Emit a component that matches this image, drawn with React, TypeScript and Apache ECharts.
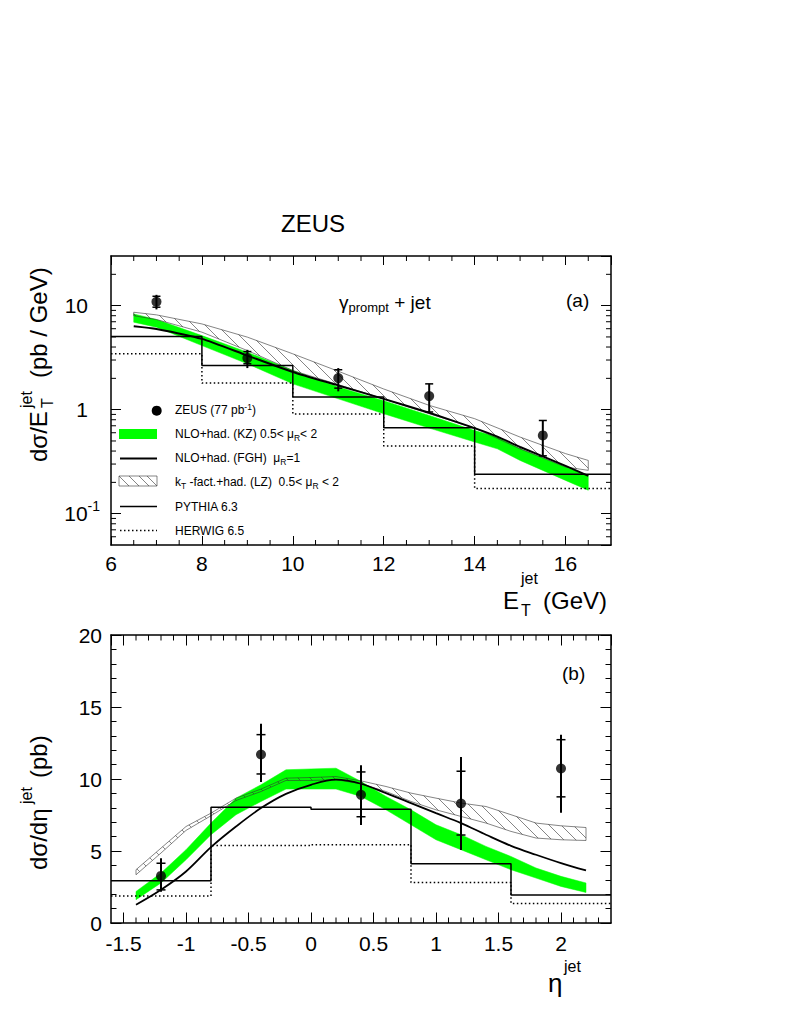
import React, { useEffect, useRef } from "react";
import * as echarts from "echarts";

const FONT = '"Liberation Sans", Arial, Helvetica, sans-serif';

// ---------- Panel (a): dσ/dE_T ----------
const etBinEdges = [6, 8, 10, 12, 14, 17];
const etCenters = [7, 9, 11, 13, 15.5];
const etZeus = [10.9, 3.13, 2.01, 1.35, 0.565];
const etStatLo = [9.66, 2.76, 1.61, 0.95, 0.36];
const etStatHi = [12.3, 3.62, 2.42, 1.77, 0.787];
const etTotLo = [9.2, 2.51, 1.5, 0.93, 0.359];
const etTotHi = [12.7, 3.76, 2.51, 1.77, 0.787];
const etPythia = [5.05, 2.66, 1.32, 0.67, 0.239];
const etHerwig = [3.44, 1.8, 0.91, 0.448, 0.175];

const etKzX = [6.5, 7, 8, 9, 10, 11, 12, 13, 14, 14.5, 15, 16, 16.5];
const etKzHi = [8.32, 7.35, 5.15, 3.57, 2.38, 1.65, 1.22, 0.88, 0.63, 0.545, 0.42, 0.281, 0.233];
const etKzLo = [6.93, 6.21, 4.13, 2.76, 1.77, 1.27, 0.914, 0.665, 0.489, 0.42, 0.325, 0.209, 0.168];
const etFgh = [6.34, 5.97, 4.79, 3.31, 2.3, 1.71, 1.27, 0.933, 0.665, 0.55, 0.438, 0.288, 0.231];

const etLzX = [6.5, 7, 8, 9, 10, 11, 12, 13, 14, 15, 16, 16.5];
const etLzHi = [8.64, 8.15, 6.67, 4.98, 3.44, 2.34, 1.58, 1.1, 0.819, 0.545, 0.378, 0.325];
const etLzLo = [8.01, 7.35, 5.56, 3.7, 2.38, 1.74, 1.27, 0.914, 0.665, 0.42, 0.281, 0.261];

// ---------- Panel (b): dσ/dη ----------
const etaBinEdges = [-1.6, -0.8, 0, 0.8, 1.6, 2.4];
const etaCenters = [-1.2, -0.4, 0.4, 1.2, 2.0];
const etaZeus = [3.27, 11.7, 8.9, 8.3, 10.73];
const etaStatLo = [2.3, 10.35, 7.38, 6.11, 8.76];
const etaStatHi = [4.15, 13.08, 10.49, 10.54, 12.73];
const etaTotLo = [2.17, 9.8, 6.8, 5.07, 7.66];
const etaTotHi = [4.5, 13.84, 10.96, 11.53, 13.08];
const etaPythia = [2.94, 8.04, 7.9, 4.11, 1.94];
const etaHerwig = [1.87, 5.38, 5.44, 2.81, 1.36];

const etaCurveX = [-1.4, -1.2, -1.0, -0.8, -0.6, -0.4, -0.2, 0, 0.2, 0.4, 0.6, 0.8, 1.0, 1.2, 1.4, 1.6, 1.8, 2.0, 2.2];
const etaKzHi = [2.19, 3.47, 5.09, 6.94, 8.67, 9.6, 10.64, 10.7, 10.75, 9.83, 8.79, 7.86, 6.82, 6.13, 5.32, 4.62, 3.82, 3.24, 2.78];
const etaKzLo = [1.62, 2.78, 4.39, 6.13, 7.52, 8.44, 9.3, 9.3, 9.3, 8.79, 7.86, 6.82, 5.78, 5.09, 4.39, 3.7, 3.12, 2.54, 2.12];
const etaFgh = [1.27, 2.31, 3.58, 5.27, 6.7, 7.98, 8.97, 9.6, 9.95, 9.67, 9.02, 8.33, 7.63, 6.94, 6.13, 5.36, 4.74, 4.16, 3.65];
const etaLzHi = [3.7, 5.2, 6.7, 7.63, 8.67, 9.3, 10.06, 10.1, 10.17, 9.87, 9.48, 9.02, 8.67, 8.33, 8.09, 7.52, 6.94, 6.75, 6.63];
const etaLzLo = [3.35, 4.86, 6.43, 7.45, 8.51, 9.13, 9.9, 9.9, 9.95, 9.67, 9.13, 8.44, 7.86, 7.4, 6.94, 6.36, 5.9, 5.78, 5.73];

// ---------- axis extents & minor ticks ----------
const ET_MIN = 6, ET_MAX = 17, SIG_MIN = 0.05, SIG_MAX = 30;
const ETA_MIN = -1.6, ETA_MAX = 2.4, DETA_MIN = 0, DETA_MAX = 20;
const etMinorTicks = [6.5, 7, 7.5, 8.5, 9, 9.5, 10.5, 11, 11.5, 12.5, 13, 13.5, 14.5, 15, 15.5, 16.5];
const logMinorTicks = [0.06, 0.07, 0.08, 0.09, 0.2, 0.3, 0.4, 0.5, 0.6, 0.7, 0.8, 0.9, 2, 3, 4, 5, 6, 7, 8, 9, 20];
const etaMinorTicks = [-1.4, -1.3, -1.2, -1.1, -0.9, -0.8, -0.7, -0.6, -0.4, -0.3, -0.2, -0.1, 0.1, 0.2, 0.3, 0.4, 0.6, 0.7, 0.8, 0.9, 1.1, 1.2, 1.3, 1.4, 1.6, 1.7, 1.8, 1.9, 2.1, 2.2, 2.3];

const histData = (edges: number[], vals: number[]) =>
  edges.map((e, i) => [e, vals[Math.min(i, vals.length - 1)]]);
const pairs = (xs: number[], ys: number[]) => xs.map((x, i) => [x, ys[i]]);

function bandItem(xs: number[], hi: number[], lo: number[], color: string) {
  return (_p: any, api: any) => {
    const top = xs.map((x, i) => api.coord([x, hi[i]]));
    const bot = xs.map((x, i) => api.coord([x, lo[i]])).reverse();
    return {
      type: "polygon",
      shape: { points: [...top, ...bot] },
      style: { fill: color, stroke: color, lineWidth: 0.5 },
    };
  };
}

function hatchItem(xs: number[], hi: number[], lo: number[], spacing: number) {
  return (_p: any, api: any) => {
    const top = xs.map((x, i) => api.coord([x, hi[i]]));
    const bot = xs.map((x, i) => api.coord([x, lo[i]])).reverse();
    const poly = [...top, ...bot];
    const children: any[] = [
      {
        type: "polygon",
        shape: { points: poly },
        style: { fill: "none", stroke: "#333", lineWidth: 0.6 },
      },
    ];
    const cs = poly.map((p: number[]) => p[0] - p[1]);
    const cmin = Math.min(...cs), cmax = Math.max(...cs);
    for (let c = Math.ceil(cmin / spacing) * spacing; c < cmax; c += spacing) {
      const pts: number[][] = [];
      for (let k = 0; k < poly.length; k++) {
        const a = poly[k], b = poly[(k + 1) % poly.length];
        const fa = a[0] - a[1] - c, fb = b[0] - b[1] - c;
        if (fa < 0 !== fb < 0) {
          const t = fa / (fa - fb);
          pts.push([a[0] + t * (b[0] - a[0]), a[1] + t * (b[1] - a[1])]);
        }
      }
      pts.sort((p, q) => p[0] - q[0]);
      for (let j = 0; j + 1 < pts.length; j += 2) {
        children.push({
          type: "line",
          shape: { x1: pts[j][0], y1: pts[j][1], x2: pts[j + 1][0], y2: pts[j + 1][1] },
          style: { stroke: "#333", lineWidth: 0.6 },
        });
      }
    }
    return { type: "group", children };
  };
}

function errItem(tick: number) {
  return (_p: any, api: any) => {
    const x = api.value(0);
    const c = api.coord([x, api.value(1)]);
    const sl = api.coord([x, api.value(2)]);
    const sh = api.coord([x, api.value(3)]);
    const tl = api.coord([x, api.value(4)]);
    const th = api.coord([x, api.value(5)]);
    const st = { stroke: "#000", lineWidth: 1.5 };
    return {
      type: "group",
      children: [
        { type: "line", shape: { x1: c[0], y1: th[1], x2: c[0], y2: tl[1] }, style: { stroke: "#000", lineWidth: 2 } },
        { type: "line", shape: { x1: c[0] - tick, y1: sh[1], x2: c[0] + tick, y2: sh[1] }, style: st },
        { type: "line", shape: { x1: c[0] - tick, y1: sl[1], x2: c[0] + tick, y2: sl[1] }, style: st },
      ],
    };
  };
}

function minorTickItem(xTicks: number[], yTicks: number[], x0: number, x1: number, y0: number, y1: number, len: number) {
  return (_p: any, api: any) => {
    const children: any[] = [];
    const st = { stroke: "#000", lineWidth: 1 };
    xTicks.forEach((v) => {
      const b = api.coord([v, y0]);
      const t = api.coord([v, y1]);
      children.push({ type: "line", shape: { x1: b[0], y1: b[1], x2: b[0], y2: b[1] - len }, style: st });
      children.push({ type: "line", shape: { x1: t[0], y1: t[1], x2: t[0], y2: t[1] + len }, style: st });
    });
    yTicks.forEach((v) => {
      const l = api.coord([x0, v]);
      const r = api.coord([x1, v]);
      children.push({ type: "line", shape: { x1: l[0], y1: l[1], x2: l[0] + len, y2: l[1] }, style: st });
      children.push({ type: "line", shape: { x1: r[0], y1: r[1], x2: r[0] - len, y2: r[1] }, style: st });
    });
    return { type: "group", children };
  };
}

const axisLine = { show: true, onZero: false, lineStyle: { color: "#000", width: 1.5 } };
const tickStyle = { color: "#000", width: 1 };
const labelBase = { color: "#000", fontFamily: FONT, fontSize: 21 };

function buildOption(): any {
  const g0 = { xAxisIndex: 0, yAxisIndex: 0 };
  const g1 = { xAxisIndex: 2, yAxisIndex: 2 };
  const txt = (x: number, y: number, text: string, fontSize: number, extra: any = {}) => ({
    type: "text",
    x,
    y,
    style: { text, fontSize, fontFamily: FONT, fill: "#000", verticalAlign: "middle", ...extra },
  });
  const legRich = {
    n: { fontSize: 12, fontFamily: FONT, lineHeight: 16 },
    sub: { fontSize: 8.5, fontFamily: FONT, verticalAlign: "bottom", lineHeight: 9 },
    sup: { fontSize: 8.5, fontFamily: FONT, verticalAlign: "top", lineHeight: 9 },
  };
  const legText = (y: number, text: string) => ({
    type: "text",
    x: 175,
    y,
    style: { text, rich: legRich, fill: "#000", verticalAlign: "middle", fontFamily: FONT },
  });
  const hatchLegend: any[] = [
    { type: "rect", shape: { x: 119, y: 476, width: 38, height: 10 }, style: { fill: "none", stroke: "#333", lineWidth: 0.6 } },
  ];
  [0, 10, 20, 28].forEach((k) => {
    const xa = 119 + k, xb = Math.min(119 + k + 10, 157);
    hatchLegend.push({
      type: "line",
      shape: { x1: xa, y1: 476, x2: xb, y2: 476 + (xb - xa) },
      style: { stroke: "#333", lineWidth: 0.6 },
    });
  });

  return {
    animation: false,
    backgroundColor: "#fff",
    grid: [
      { left: 111, top: 256, width: 500, height: 289 },
      { left: 111, top: 635, width: 500, height: 288 },
    ],
    xAxis: [
      {
        gridIndex: 0, type: "value", position: "bottom", min: ET_MIN, max: ET_MAX, interval: 2,
        axisLine, axisTick: { show: true, inside: true, length: 9, lineStyle: tickStyle },
        minorTick: { show: false }, splitLine: { show: false },
        axisLabel: { ...labelBase, margin: 8, showMaxLabel: false },
      },
      {
        gridIndex: 0, type: "value", position: "top", min: ET_MIN, max: ET_MAX, interval: 2,
        axisLine, axisTick: { show: true, inside: true, length: 9, lineStyle: tickStyle },
        minorTick: { show: false }, splitLine: { show: false }, axisLabel: { show: false },
      },
      {
        gridIndex: 1, type: "value", position: "bottom", min: ETA_MIN, max: ETA_MAX, splitNumber: 8,
        axisLine, axisTick: { show: true, inside: true, length: 10.5, lineStyle: tickStyle },
        minorTick: { show: false }, splitLine: { show: false },
        axisLabel: { ...labelBase, margin: 10, showMinLabel: false, showMaxLabel: false },
      },
      {
        gridIndex: 1, type: "value", position: "top", min: ETA_MIN, max: ETA_MAX, splitNumber: 8,
        axisLine, axisTick: { show: true, inside: true, length: 10.5, lineStyle: tickStyle },
        minorTick: { show: false }, splitLine: { show: false }, axisLabel: { show: false },
      },
    ],
    yAxis: [
      {
        gridIndex: 0, type: "log", logBase: 10, min: SIG_MIN, max: SIG_MAX, position: "left",
        axisLine, axisTick: { show: true, inside: true, length: 10, lineStyle: tickStyle },
        minorTick: { show: false }, splitLine: { show: false },
        axisLabel: {
          ...labelBase, margin: 11, showMinLabel: false, showMaxLabel: false,
          formatter: (v: number) => {
            if (Math.abs(v - 10) < 1e-6) return "{b|10}{p| }";
            if (Math.abs(v - 1) < 1e-6) return "{b|1}{p| }";
            if (Math.abs(v - 0.1) < 1e-6) return "{b|10}{s|-1}";
            return "";
          },
          rich: {
            b: { fontSize: 21, fontFamily: FONT, color: "#000", lineHeight: 30 },
            p: { fontSize: 14, fontFamily: FONT, color: "#000", lineHeight: 14, width: 12 },
            s: { fontSize: 14, fontFamily: FONT, color: "#000", verticalAlign: "top", lineHeight: 14 },
          },
        },
      },
      {
        gridIndex: 0, type: "log", logBase: 10, min: SIG_MIN, max: SIG_MAX, position: "right",
        axisLine, axisTick: { show: true, inside: true, length: 10, lineStyle: tickStyle },
        minorTick: { show: false }, splitLine: { show: false }, axisLabel: { show: false },
      },
      {
        gridIndex: 1, type: "value", min: DETA_MIN, max: DETA_MAX, interval: 5, position: "left",
        axisLine, axisTick: { show: true, inside: true, length: 10.5, lineStyle: tickStyle },
        minorTick: { show: true, splitNumber: 5, length: 5.5, lineStyle: tickStyle },
        splitLine: { show: false },
        axisLabel: { ...labelBase, margin: 9 },
      },
      {
        gridIndex: 1, type: "value", min: DETA_MIN, max: DETA_MAX, interval: 5, position: "right",
        axisLine, axisTick: { show: true, inside: true, length: 10.5, lineStyle: tickStyle },
        minorTick: { show: true, splitNumber: 5, length: 5.5, lineStyle: tickStyle },
        splitLine: { show: false }, axisLabel: { show: false },
      },
    ],
    series: [
      // ---- panel (a)
      { type: "custom", ...g0, renderItem: bandItem(etKzX, etKzHi, etKzLo, "#00ff00"), data: [[etKzX[0], etKzHi[0]]], silent: true },
      { type: "custom", ...g0, renderItem: hatchItem(etLzX, etLzHi, etLzLo, 12), data: [[etLzX[0], etLzHi[0]]], silent: true },
      { type: "line", ...g0, step: "end", data: histData(etBinEdges, etPythia), showSymbol: false, lineStyle: { color: "#000", width: 1.5 } },
      { type: "line", ...g0, step: "end", data: histData(etBinEdges, etHerwig), showSymbol: false, lineStyle: { color: "#000", width: 1.5, type: [1.5, 2.5] } },
      { type: "line", ...g0, data: pairs(etKzX, etFgh), showSymbol: false, smooth: 0.2, lineStyle: { color: "#000", width: 2 } },
      {
        type: "custom", ...g0, renderItem: errItem(4),
        data: etCenters.map((x, i) => [x, etZeus[i], etStatLo[i], etStatHi[i], etTotLo[i], etTotHi[i]]),
      },
      { type: "scatter", ...g0, data: pairs(etCenters, etZeus), symbol: "circle", symbolSize: 10, itemStyle: { color: "#000" } },
      {
        type: "custom", ...g0, silent: true, data: [[ET_MIN, 1]],
        renderItem: minorTickItem(etMinorTicks, logMinorTicks, ET_MIN, ET_MAX, SIG_MIN, SIG_MAX, 5),
      },
      // ---- panel (b)
      { type: "custom", ...g1, renderItem: bandItem(etaCurveX, etaKzHi, etaKzLo, "#00ff00"), data: [[etaCurveX[0], etaKzHi[0]]], silent: true },
      { type: "custom", ...g1, renderItem: hatchItem(etaCurveX, etaLzHi, etaLzLo, 12), data: [[etaCurveX[0], etaLzHi[0]]], silent: true },
      { type: "line", ...g1, step: "end", data: histData(etaBinEdges, etaPythia), showSymbol: false, lineStyle: { color: "#000", width: 1.5 } },
      { type: "line", ...g1, step: "end", data: histData(etaBinEdges, etaHerwig), showSymbol: false, lineStyle: { color: "#000", width: 1.5, type: [1.5, 2.5] } },
      { type: "line", ...g1, data: pairs(etaCurveX, etaFgh), showSymbol: false, smooth: 0.35, lineStyle: { color: "#000", width: 1.8 } },
      {
        type: "custom", ...g1, renderItem: errItem(4.5),
        data: etaCenters.map((x, i) => [x, etaZeus[i], etaStatLo[i], etaStatHi[i], etaTotLo[i], etaTotHi[i]]),
      },
      { type: "scatter", ...g1, data: pairs(etaCenters, etaZeus), symbol: "circle", symbolSize: 10, itemStyle: { color: "#000" } },
      {
        type: "custom", ...g1, silent: true, data: [[ETA_MIN, 1]],
        renderItem: minorTickItem(etaMinorTicks, [], ETA_MIN, ETA_MAX, DETA_MIN, DETA_MAX, 5.5),
      },
    ],
    graphic: [
      txt(281, 223, "ZEUS", 24),
      {
        type: "text", x: 339, y: 302,
        style: {
          text: "{m|γ}{s|prompt}{m| + jet}", fill: "#000", verticalAlign: "middle", fontFamily: FONT,
          rich: {
            m: { fontSize: 19, fontFamily: FONT, lineHeight: 24 },
            s: { fontSize: 13, fontFamily: FONT, verticalAlign: "bottom", lineHeight: 13 },
          },
        },
      },
      txt(566, 300, "(a)", 19),
      txt(562, 673, "(b)", 19),
      // legend (a)
      { type: "circle", shape: { cx: 156.7, cy: 410.7, r: 5 }, style: { fill: "#000" } },
      { type: "rect", shape: { x: 119, y: 429, width: 38, height: 10 }, style: { fill: "#00ff00" } },
      { type: "line", shape: { x1: 120, y1: 458.5, x2: 157, y2: 458.5 }, style: { stroke: "#000", lineWidth: 2 } },
      ...hatchLegend,
      { type: "line", shape: { x1: 120, y1: 506.5, x2: 157, y2: 506.5 }, style: { stroke: "#000", lineWidth: 1.5 } },
      { type: "line", shape: { x1: 120, y1: 530.5, x2: 157, y2: 530.5 }, style: { stroke: "#000", lineWidth: 1.5, lineDash: [1.5, 2.5] } },
      legText(410, "{n|ZEUS (77 pb}{sup|-1}{n|)}"),
      legText(434, "{n|NLO+had. (KZ) 0.5< μ}{sub|R}{n|< 2}"),
      legText(458, "{n|NLO+had. (FGH)  μ}{sub|R}{n|=1}"),
      legText(482, "{n|k}{sub|T}{n| -fact.+had. (LZ)  0.5< μ}{sub|R}{n| < 2}"),
      legText(507, "{n|PYTHIA 6.3}"),
      legText(531, "{n|HERWIG 6.5}"),
      // x-axis titles
      txt(503, 600, "E", 24),
      txt(521, 610, "T", 16),
      txt(521, 578, "jet", 16),
      txt(543, 600, "(GeV)", 24),
      txt(548, 983, "η", 26),
      txt(564, 966, "jet", 16),
      // y-axis titles (rotated)
      {
        type: "group", x: 47, y: 462, rotation: Math.PI / 2,
        children: [
          txt(0, -8.5, "dσ/E", 24),
          txt(54, 0, "T", 16),
          txt(54, -21, "jet", 16),
          txt(84, -8.5, "(pb / GeV)", 24),
        ],
      },
      {
        type: "group", x: 47, y: 870, rotation: Math.PI / 2,
        children: [
          txt(0, -8.5, "dσ/dη", 24),
          txt(66, -21, "jet", 16),
          txt(92, -8.5, "(pb)", 24),
        ],
      },
    ],
  };
}

export default function App() {
  const ref = useRef<HTMLDivElement>(null);
  useEffect(() => {
    if (!ref.current) return;
    const chart = echarts.init(ref.current, null, { renderer: "svg" });
    chart.setOption(buildOption());
    return () => chart.dispose();
  }, []);
  return (
    <div
      ref={ref}
      style={{ position: "absolute", left: 0, top: 0, width: 800, height: 1035, background: "#fff" }}
    />
  );
}
